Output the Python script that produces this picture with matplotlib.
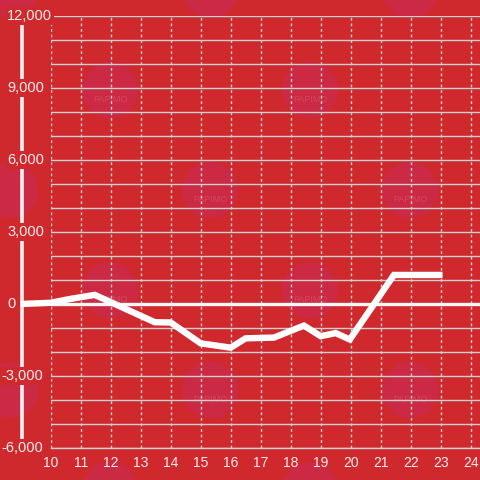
import matplotlib
matplotlib.use("Agg")
import matplotlib.pyplot as plt
from matplotlib.patches import Circle
from matplotlib.ticker import MultipleLocator
import matplotlib.transforms as mtransforms

# hour of day vs. cumulative balance
hours = [9.0, 10.0, 10.6, 11.47, 13.47, 14.0, 15.0, 16.0, 16.5, 17.44,
         18.44, 19.0, 19.5, 19.97, 21.44, 23.06]
balance = [0, 50, 200, 380, -760, -770, -1640, -1820, -1430, -1400,
           -900, -1340, -1210, -1480, 1210, 1210]

x_ticks = list(range(10, 25))
y_ticks = [-6000, -3000, 0, 3000, 6000, 9000, 12000]

bg = "#cf292e"
grid_col = "#d2cfcf"
txt_col = "#f4eeee"

plt.rcParams["font.family"] = ["Liberation Sans", "DejaVu Sans"]

fig = plt.figure(figsize=(4.8, 4.8), dpi=100, facecolor=bg)

# faint watermark circles in a background layer
wm = fig.add_axes([0, 0, 1, 1], zorder=-5)
wm.set_xlim(0, 480)
wm.set_ylim(480, 0)
wm.axis("off")
marks = [(10, -10), (210, -10), (410, -10), (110, 90), (310, 90),
         (10, 190), (210, 190), (410, 190), (110, 290), (310, 290),
         (10, 390), (210, 390), (410, 390), (110, 490), (310, 490)]
for mx, my in marks:
    wm.add_patch(Circle((mx, my), 28, color="#cb2944", lw=0))
    if 40 < mx < 440 and 20 < my < 460:
        wm.text(mx, my + 10, "PAPIMO", color="#d44858", fontsize=6.5,
                ha="center", va="center")

ax = fig.add_axes([50.7 / 480, 32 / 480, (480 - 50.7) / 480, 432 / 480])
ax.set_facecolor("none")
ax.set_xlim(10, 10 + (480 - 50.7) / 30)
ax.set_ylim(-6000, 12000)

ax.set_xticks(x_ticks)
ax.set_yticks(y_ticks)
ax.yaxis.set_minor_locator(MultipleLocator(1000))
ax.grid(axis="y", which="both", color=grid_col, lw=1.0)
ax.grid(axis="x", which="major", color=grid_col, lw=1.0, linestyle=(0, (2, 2)))
ax.set_axisbelow(True)

for s in ["top", "right"]:
    ax.spines[s].set_visible(False)
ax.spines["bottom"].set_color(grid_col)
ax.spines["bottom"].set_linewidth(1.0)
ax.spines["left"].set_position(("outward", 29 * 0.72))
ax.spines["left"].set_color("#f2f2f2")
ax.spines["left"].set_linewidth(2.6)

ax.tick_params(axis="both", which="both", length=0)
ax.tick_params(axis="x", colors=txt_col, labelsize=10, pad=6)
ax.set_yticklabels([])

ax.axhline(0, color="#f6f6f6", lw=2.4, zorder=2)

# y labels with red box that hides the axis bar behind them
trans = mtransforms.blended_transform_factory(fig.transFigure, ax.transData)
for v in y_ticks:
    lx = 7 / 480 if v >= 0 else 1 / 480
    ax.text(lx, v, f"{v:,}", transform=trans, color=txt_col, fontsize=10.5,
            ha="left", va="center", zorder=6, clip_on=False,
            bbox=dict(boxstyle="square,pad=0.12", fc=bg, ec="none"))

ax.plot(hours, balance, color="white", lw=4.6, solid_joinstyle="miter",
        solid_capstyle="butt", clip_on=False, zorder=4)

fig.savefig("out.png", dpi=100, facecolor=bg)
